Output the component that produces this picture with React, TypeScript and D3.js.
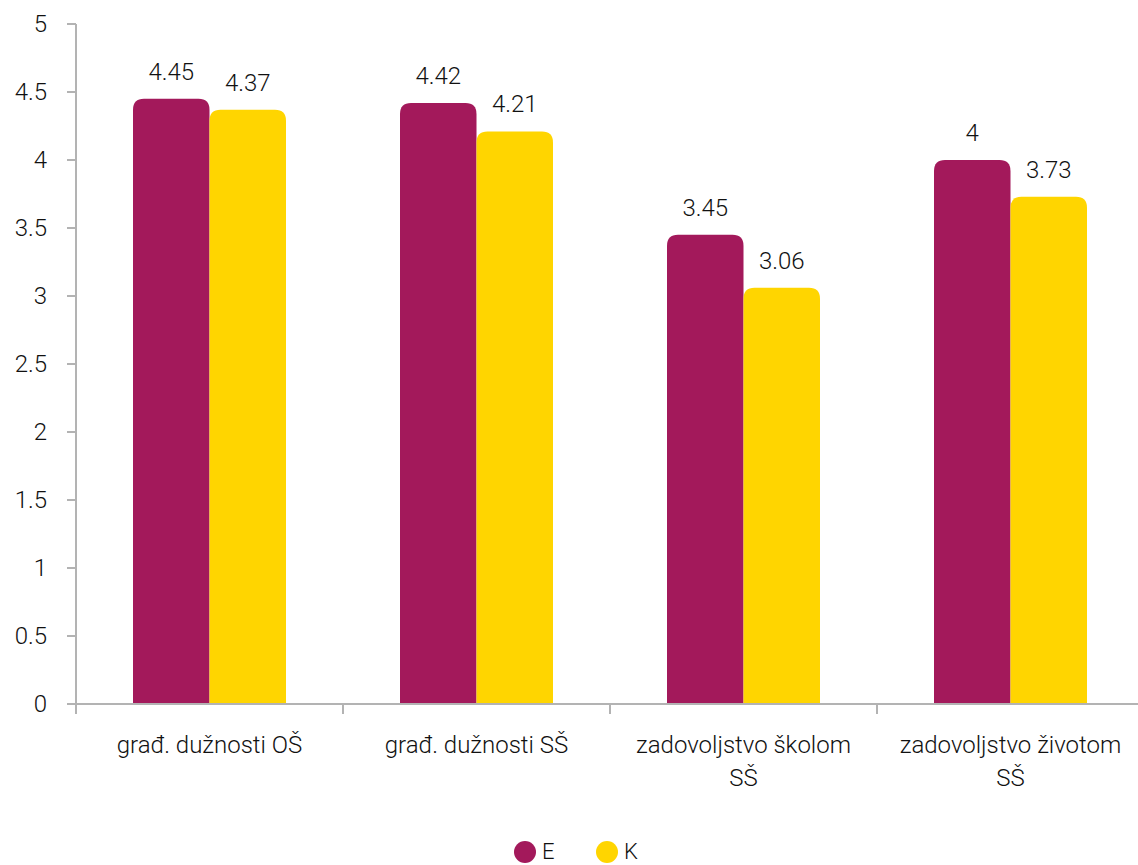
import React from "react";
import * as d3 from "d3";

const categories = [
  ["građ. dužnosti OŠ"],
  ["građ. dužnosti SŠ"],
  ["zadovoljstvo školom", "SŠ"],
  ["zadovoljstvo životom", "SŠ"],
];
const seriesNames = ["E", "K"];
const seriesE = [4.45, 4.42, 3.45, 4];
const seriesK = [4.37, 4.21, 3.06, 3.73];
const yTicks = [0, 0.5, 1, 1.5, 2, 2.5, 3, 3.5, 4, 4.5, 5];
const colors = ["#A3195B", "#FFD500"];

const W = 1138;
const H = 865;
const x0 = 76;
const catW = 267;
const y = d3.scaleLinear().domain([0, 5]).range([704, 24]);
const x = d3
  .scaleBand<number>()
  .domain(categories.map((_, i) => i))
  .range([x0, x0 + catW * categories.length]);
const barW = 76.5;

function topRounded(xl: number, yt: number, w: number, yb: number, r: number) {
  const rr = Math.min(r, (yb - yt) / 2, w / 2);
  return `M${xl},${yb}V${yt + rr}Q${xl},${yt} ${xl + rr},${yt}H${xl + w - rr}Q${xl + w},${yt} ${xl + w},${yt + rr}V${yb}Z`;
}

const font = "Roboto, 'Noto Sans', sans-serif";
const fs = 24;
const fw = 300;
const tc = "#111";

export default function App() {
  const series = [seriesE, seriesK];
  const fmt = (v: number) => String(v);
  return (
    <svg width={W} height={H} style={{ display: "block", position: "absolute", left: 0, top: 0 }} fontFamily={font}>
      <rect width={W} height={H} fill="#fff" />
      {categories.map((_, i) => {
        const c = (x(i) as number) + x.bandwidth() / 2;
        return series.map((s, si) => {
          const xl = c - barW + si * barW;
          return (
            <g key={`${i}-${si}`}>
              <path d={topRounded(xl, y(s[i]), barW, y(0), 11)} fill={colors[si]} />
              <text x={xl + barW / 2} y={y(s[i]) - 19} textAnchor="middle" fontSize={fs} fill={tc} fontWeight={fw}>
                {fmt(s[i])}
              </text>
            </g>
          );
        });
      })}
      <line x1={x0} x2={x0} y1={y(5)} y2={y(0)} stroke="#b3b3b3" strokeWidth={2} />
      {yTicks.map((t) => (
        <g key={t}>
          <line x1={67} x2={x0} y1={y(t)} y2={y(t)} stroke="#b3b3b3" strokeWidth={2} />
          <text x={47} y={y(t) + 8} textAnchor="end" fontSize={fs} fill={tc} fontWeight={fw}>
            {t}
          </text>
        </g>
      ))}
      <line x1={x0 - 9} x2={x0 + catW * categories.length} y1={y(0)} y2={y(0)} stroke="#b3b3b3" strokeWidth={2} />
      {d3.range(categories.length + 1).map((i) => (
        <line key={i} x1={x0 + i * catW} x2={x0 + i * catW} y1={y(0)} y2={y(0) + 10} stroke="#b3b3b3" strokeWidth={2} />
      ))}
      {categories.map((lines, i) => {
        const c = (x(i) as number) + x.bandwidth() / 2;
        return (
          <text key={i} textAnchor="middle" fontSize={fs} fill={tc} fontWeight={fw}>
            {lines.map((l, li) => (
              <tspan key={li} x={c} y={753 + li * 33}>
                {l}
              </tspan>
            ))}
          </text>
        );
      })}
      {seriesNames.map((n, i) => {
        const cx = 525 + i * 82;
        return (
          <g key={n}>
            <circle cx={cx} cy={852} r={11} fill={colors[i]} />
            <text x={cx + 17} y={859} fontSize={22} fill={tc} fontWeight={fw}>
              {n}
            </text>
          </g>
        );
      })}
    </svg>
  );
}
